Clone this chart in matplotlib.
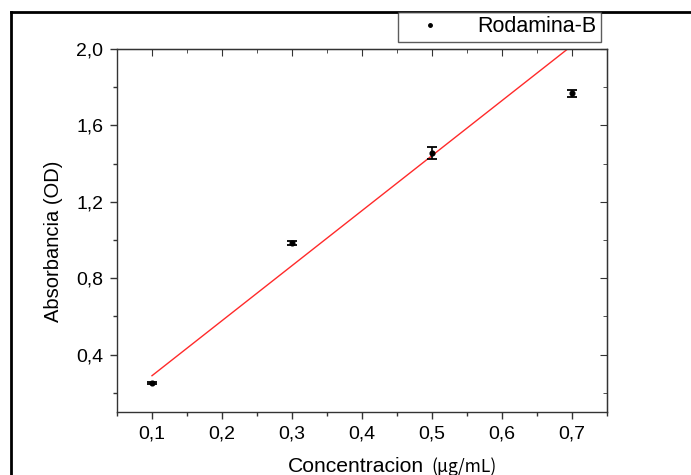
import matplotlib
matplotlib.use("Agg")
import matplotlib.pyplot as plt
from matplotlib.lines import Line2D
from matplotlib.ticker import MultipleLocator, FuncFormatter

plt.rcParams["font.family"] = ["Liberation Sans", "DejaVu Sans"]

# measured absorbance for each rhodamine B concentration
conc = [0.1, 0.3, 0.5, 0.7]
absorb = [0.251, 0.984, 1.455, 1.768]
absorb_err = [0.006, 0.010, 0.030, 0.020]

# linear fit parameters
fit_slope = 2.88
fit_intercept = 0.002
fit_x = [0.1, 0.7]

W, H = 691, 475
fig = plt.figure(figsize=(W / 100, H / 100), dpi=100)
ax = fig.add_axes([117 / W, 1 - 412 / H, 490 / W, 363 / H])

# outer frame (left and top edges only)
fig.add_artist(Line2D([11 / W, 11 / W], [0, 1 - 12 / H], color="black", lw=2,
                      transform=fig.transFigure))
fig.add_artist(Line2D([11 / W, 1], [1 - 12 / H, 1 - 12 / H], color="black", lw=2,
                      transform=fig.transFigure))

fit_y = [fit_slope * x + fit_intercept for x in fit_x]
ax.plot(fit_x, fit_y, color="#ff2a2a", lw=1.0, zorder=2)

ax.errorbar(conc, absorb, yerr=absorb_err, fmt="o", color="black", ms=3.4,
            ecolor="black", elinewidth=1.2, capsize=3.5, capthick=1.3, zorder=3,
            label="Rodamina-B")

ax.set_xlim(0.05, 0.75)
ax.set_ylim(0.1, 2.0)
ax.xaxis.set_major_locator(MultipleLocator(0.1))
ax.xaxis.set_minor_locator(MultipleLocator(0.05))
ax.yaxis.set_major_locator(MultipleLocator(0.4))
ax.yaxis.set_minor_locator(MultipleLocator(0.2))

comma = FuncFormatter(lambda v, pos: f"{v:.1f}".replace(".", ","))
ax.xaxis.set_major_formatter(comma)
ax.yaxis.set_major_formatter(comma)

for s in ax.spines.values():
    s.set_linewidth(1.0)
    s.set_color("#333333")

ax.tick_params(which="both", direction="out", bottom=True, left=True,
               top=False, right=False, labelsize=14, color="#333333")
ax.tick_params(which="major", length=5, width=1, pad=5)
ax.tick_params(which="minor", length=3, width=1)

# mirrored inward ticks on top and right
axt = ax.secondary_xaxis("top")
axt.xaxis.set_major_locator(MultipleLocator(0.1))
axt.xaxis.set_minor_locator(MultipleLocator(0.05))
axt.tick_params(which="both", direction="in", labeltop=False, color="#333333")
axt.tick_params(which="major", length=5)
axt.tick_params(which="minor", length=3)
axr = ax.secondary_yaxis("right")
axr.yaxis.set_major_locator(MultipleLocator(0.4))
axr.yaxis.set_minor_locator(MultipleLocator(0.2))
axr.tick_params(which="both", direction="in", labelright=False, color="#333333")
axr.tick_params(which="major", length=5)
axr.tick_params(which="minor", length=3)

# axis titles
fig.text(54 / W, 1 - 241 / H, "Absorbancia (OD)", rotation=90, ha="center",
         va="center", fontsize=14.5)
fig.text(288 / W, 1 - 472 / H, "Concentracion", ha="left", va="baseline",
         fontsize=15.2)
fig.text(431 / W, 1 - 472 / H, "(µg/mL)", ha="left", va="baseline",
         fontsize=12.5, family=["Noto Sans CJK JP", "DejaVu Sans"])

handle = Line2D([], [], marker="o", ls="none", color="black", ms=2.5)
leg = fig.legend([handle], ["Rodamina-B"], loc="upper left",
                 bbox_to_anchor=(398 / W, 1 - 12 / H), fontsize=15.5,
                 frameon=True, fancybox=False, borderaxespad=0,
                 handlelength=2.6, handletextpad=0.9, borderpad=0.2)
leg.get_frame().set_edgecolor("#333333")
leg.get_frame().set_linewidth(1.0)

fig.savefig("out.png", dpi=100)
